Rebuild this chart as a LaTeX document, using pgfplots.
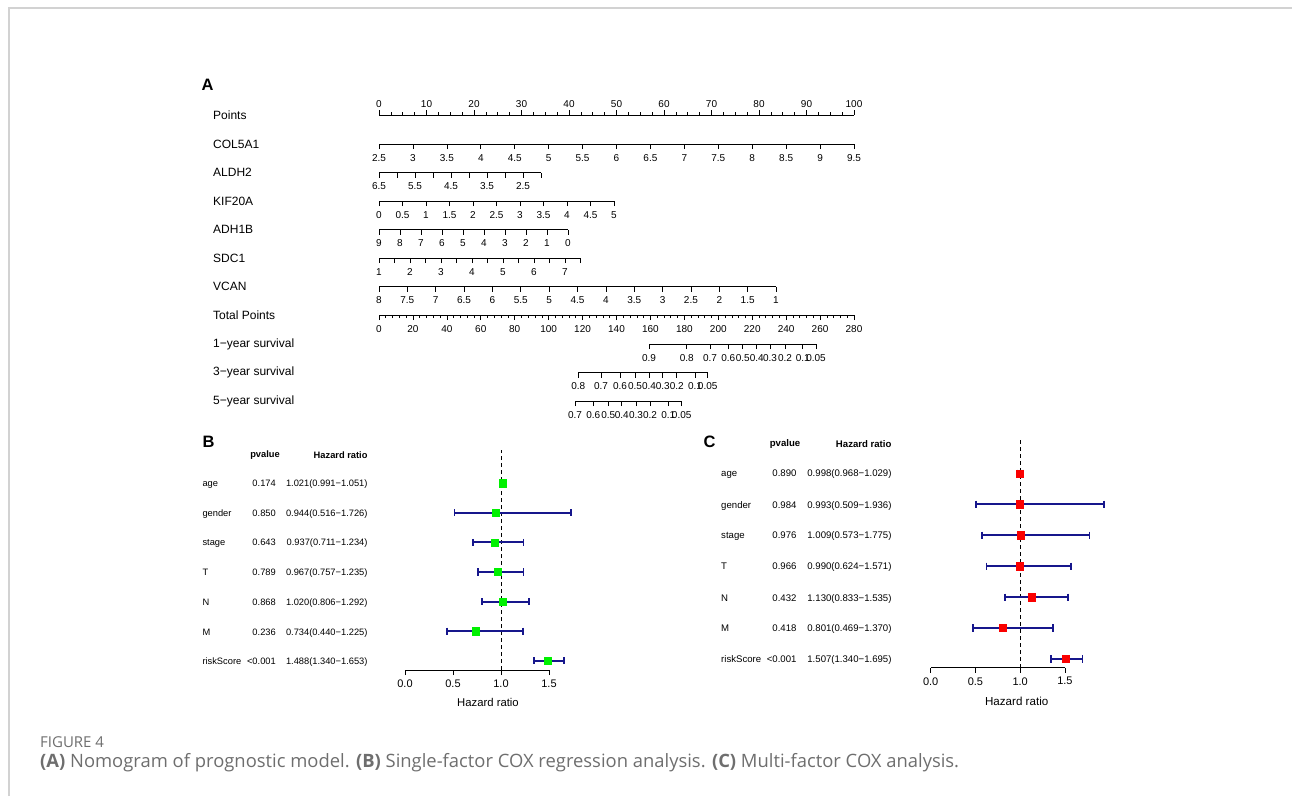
\documentclass[border=0pt]{standalone}
\usepackage{fontspec}
\setmainfont{Liberation Sans}
\newfontfamily\capfont{Open Sans}
\usepackage{pgfplots}
\usepackage{pgfplotstable}
\pgfplotsset{compat=1.18}
\definecolor{ciblue}{RGB}{22,22,140}
\definecolor{capgray}{RGB}{110,110,110}
\definecolor{framegray}{RGB}{210,210,210}
\definecolor{hrgreen}{RGB}{0,240,0}
\definecolor{hrred}{RGB}{250,0,0}

% single-factor COX (B): row hr lo hi
\pgfplotstableread{
row hr lo hi
-1 1.021 0.991 1.051
-2 0.944 0.516 1.726
-3 0.937 0.711 1.234
-4 0.967 0.757 1.235
-5 1.020 0.806 1.292
-6 0.734 0.440 1.225
-7 1.488 1.340 1.653
}\uniB
% multi-factor COX (C)
\pgfplotstableread{
row hr lo hi
-1 0.998 0.968 1.029
-2 0.993 0.509 1.936
-3 1.009 0.573 1.775
-4 0.990 0.624 1.571
-5 1.130 0.833 1.535
-6 0.801 0.469 1.370
-7 1.507 1.340 1.695
}\multiC

\pgfplotsset{
  nomo/.style={
    scale only axis, y=1pt, ymin=0, ymax=1,
    axis y line=none, axis x line*=bottom,
    tick align=outside, major tick length=5pt, minor tick length=3pt,
    tick style={black, line width=0.6pt},
    axis line style={black, line width=0.7pt},
    /pgf/number format/assume math mode=true,
    xticklabel style={font=\fontsize{10}{11}\selectfont, inner sep=1pt},
    xticklabel shift=4pt,
    clip=false, anchor=south,
  },
  forest/.style={
    scale only axis, clip=false,
    axis y line=none, axis x line*=bottom,
    tick align=outside, major tick length=5pt,
    tick style={black, line width=0.7pt},
    axis line style={black, line width=0.8pt},
    xmin=0, xmax=1.5,
    xtick={0,0.5,1,1.5}, xticklabels={0.0,0.5,1.0,1.5},
    xticklabel style={font=\fontsize{11}{13}\selectfont, inner sep=1.5pt},
    xticklabel shift=3pt,
    anchor=south west,
  },
  ci/.style={only marks, mark=none, error bars/.cd, x dir=both, x explicit,
    error mark=none, error bar style={draw=ciblue, line width=2pt, solid}},
  cap/.style={only marks, mark=|, mark size=3.6pt, mark options={draw=ciblue, line width=1.8pt, solid}},
}

\begin{document}
\begin{tikzpicture}
\path[use as bounding box] (0pt,0pt) rectangle (1292pt,-796pt);
\draw[framegray, line width=1.5pt] (9pt,-796pt) -- (9pt,-8pt) -- (1292pt,-8pt);

% ---------------- A: nomogram ----------------
\node[anchor=west, font=\bfseries\fontsize{16.5}{18}\selectfont] at (198pt,-85pt) {A};
\foreach \yy/\lab in {115/Points, 144/COL5A1, 172.5/ALDH2, 201/KIF20A, 229.5/ADH1B, 258/SDC1, 286.5/VCAN, 315/Total Points, 344/1−year survival, 372.5/3−year survival, 401/5−year survival}
  \node[anchor=west, font=\fontsize{12}{14}\selectfont, inner sep=0pt] at (213pt,-\yy pt) {\lab};

\begin{axis}[nomo, axis x line*=top, anchor=north, at={(616.5pt,-115pt)}, x=4.75pt,
  xmin=0, xmax=100, xtick={0,10,...,100}, minor x tick num=3, xticklabel shift=1pt]
\end{axis}
\begin{axis}[nomo, at={(616.5pt,-144pt)}, x=67.857pt, xmin=2.5, xmax=9.5,
  xtick={2.5,3,...,9.5}]
\end{axis}
\begin{axis}[nomo, at={(460pt,-172.5pt)}, x=36pt, x dir=reverse, xmin=2, xmax=6.5,
  xtick={6.5,6,5.5,5,4.5,4,3.5,3,2.5,2}, xticklabels={6.5,,5.5,,4.5,,3.5,,2.5,}]
\end{axis}
\begin{axis}[nomo, at={(496.5pt,-201pt)}, x=47pt, xmin=0, xmax=5,
  xtick={0,0.5,...,5}]
\end{axis}
\begin{axis}[nomo, at={(473.5pt,-229.5pt)}, x=21pt, x dir=reverse, xmin=0, xmax=9,
  xtick={0,1,...,9}]
\end{axis}
\begin{axis}[nomo, at={(479.75pt,-258pt)}, x=31pt, xmin=1, xmax=7.5,
  xtick={1,1.5,2,2.5,3,3.5,4,4.5,5,5.5,6,6.5,7,7.5}, xticklabels={1,,2,,3,,4,,5,,6,,7,}]
\end{axis}
\begin{axis}[nomo, at={(577.5pt,-286.5pt)}, x=56.714pt, x dir=reverse, xmin=1, xmax=8,
  xtick={1,1.5,...,8}]
\end{axis}
\begin{axis}[nomo, at={(616.5pt,-315pt)}, x=1.69643pt, xmin=0, xmax=280,
  xtick={0,20,...,280}, minor x tick num=4]
\end{axis}
% survival scales (in total-point units)
\begin{axis}[nomo, at={(732.5pt,-344pt)}, x=1.69643pt, xmin=159.16, xmax=257.60,
  xtick={159.16,181.38,195.12,205.90,214.39,222.65,230.48,239.33,249.76,257.60},
  xticklabels={0.9,0.8,0.7,0.6,0.5,0.4,0.3,0.2,0.1,0.05}]
\end{axis}
\begin{axis}[nomo, at={(643pt,-372.5pt)}, x=1.69643pt, xmin=117.48, xmax=193.76,
  xtick={117.48,130.86,142.06,150.91,159.16,167.23,175.49,186.27,193.76},
  xticklabels={0.8,0.7,0.6,0.5,0.4,0.3,0.2,0.1,0.05}]
\end{axis}
\begin{axis}[nomo, at={(628.35pt,-401pt)}, x=1.69643pt, xmin=115.54, xmax=178.43,
  xtick={115.54,126.32,135.17,143.06,151.49,159.75,170.53,178.43},
  xticklabels={0.7,0.6,0.5,0.4,0.3,0.2,0.1,0.05}]
\end{axis}

% ---------------- B: single-factor forest ----------------
\node[anchor=west, font=\bfseries\fontsize{16.5}{18}\selectfont] at (199pt,-441.7pt) {B};
\begin{scope}[font=\fontsize{9.3}{11}\selectfont]
\node[anchor=base, font=\bfseries\fontsize{9.3}{11}\selectfont] at (265pt,-457.3pt) {pvalue};
\node[anchor=base east, font=\bfseries\fontsize{9.3}{11}\selectfont] at (371pt,-458.3pt) {Hazard ratio};
\foreach \yy/\n/\p/\h in {483.3/age/0.174/1.021(0.991−1.051), 513.3/gender/0.850/0.944(0.516−1.726),
  542.3/stage/0.643/0.937(0.711−1.234), 572.3/T/0.789/0.967(0.757−1.235), 601.7/N/0.868/1.020(0.806−1.292),
  631.7/M/0.236/0.734(0.440−1.225), 661/riskScore/<0.001/1.488(1.340−1.653)} {
  \node[anchor=base west] at (199pt,-\yy pt-3.4pt) {\n};
  \node[anchor=base east] at (279.3pt,-\yy pt-3.4pt) {\p};
  \node[anchor=base east] at (371pt,-\yy pt-3.4pt) {\h};
}
\end{scope}
\begin{axis}[forest, at={(405pt,-670pt)}, x=96pt, y=29.6pt, ymin=-7.31, ymax=0.11]
\addplot[black, line width=1pt, dash pattern=on 4pt off 3pt] coordinates {(1,-7.31) (1,0.11)};
\addplot[ci] table[x=hr, y=row, x error plus expr=\thisrow{hi}-\thisrow{hr}, x error minus expr=\thisrow{hr}-\thisrow{lo}] \uniB;
\addplot[cap] table[x=lo, y=row] \uniB;
\addplot[cap] table[x=hi, y=row] \uniB;
\addplot[only marks, mark=square*, mark size=3.6pt, mark options={fill=hrgreen, draw=hrgreen}]
  table[x=hr, y=row] \uniB;
\end{axis}
\node[font=\fontsize{11.3}{13}\selectfont] at (488pt,-702.5pt) {Hazard ratio};

% ---------------- C: multi-factor forest ----------------
\node[anchor=west, font=\bfseries\fontsize{16.5}{18}\selectfont] at (700pt,-441.7pt) {C};
\begin{scope}[font=\fontsize{9.6}{11}\selectfont]
\node[anchor=base, font=\bfseries\fontsize{9.6}{11}\selectfont] at (785pt,-446.7pt) {pvalue};
\node[anchor=base east, font=\bfseries\fontsize{9.6}{11}\selectfont] at (895pt,-447.4pt) {Hazard ratio};
\foreach \yy/\n/\p/\h in {473.3/age/0.890/0.998(0.968−1.029), 505/gender/0.984/0.993(0.509−1.936),
  535/stage/0.976/1.009(0.573−1.775), 566.3/T/0.966/0.990(0.624−1.571), 597.7/N/0.432/1.130(0.833−1.535),
  627.7/M/0.418/0.801(0.469−1.370), 659/riskScore/<0.001/1.507(1.340−1.695)} {
  \node[anchor=base west] at (717.7pt,-\yy pt-3.5pt) {\n};
  \node[anchor=base east] at (800pt,-\yy pt-3.5pt) {\p};
  \node[anchor=base east] at (895pt,-\yy pt-3.5pt) {\h};
}
\end{scope}
\begin{axis}[forest, at={(930.7pt,-667.7pt)}, x=89.5pt, y=30.95pt, ymin=-7.28, ymax=0.14]
\addplot[black, line width=1pt, dash pattern=on 4pt off 3pt] coordinates {(1,-7.28) (1,0.14)};
\addplot[ci] table[x=hr, y=row, x error plus expr=\thisrow{hi}-\thisrow{hr}, x error minus expr=\thisrow{hr}-\thisrow{lo}] \multiC;
\addplot[cap] table[x=lo, y=row] \multiC;
\addplot[cap] table[x=hi, y=row] \multiC;
\addplot[only marks, mark=square*, mark size=3.6pt, mark options={fill=hrred, draw=hrred}]
  table[x=hr, y=row] \multiC;
\end{axis}
\node[font=\fontsize{11.6}{13}\selectfont] at (1016.7pt,-701.7pt) {Hazard ratio};

% ---------------- caption ----------------
\node[anchor=base west, inner sep=0pt, text=capgray, font=\capfont\fontsize{15}{17}\selectfont] at (40pt,-747pt) {FIGURE 4};
\node[anchor=base west, inner sep=0pt, text=capgray, font=\capfont\fontsize{18.4}{21}\selectfont] at (40pt,-767pt)
  {{\bfseries (A)} Nomogram of prognostic model. {\bfseries (B)} Single-factor COX regression analysis. {\bfseries (C)} Multi-factor COX analysis.};
\end{tikzpicture}
\end{document}
